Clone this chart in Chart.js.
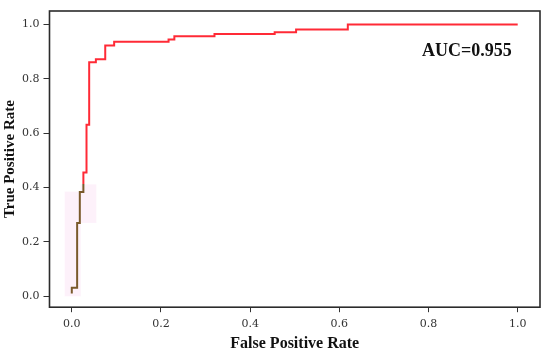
<!DOCTYPE html>
<html>
<head>
<meta charset="utf-8">
<script src="https://cdn.jsdelivr.net/npm/chart.js@4"></script>
<style>
body{margin:0;background:#fff;}
#wrap{width:550px;height:353px;position:relative;}
</style>
</head>
<body>
<div id="wrap"><canvas id="rocChart"></canvas></div>
<script>
// ROC curve corners
const fpr = [0.000, 0.000, 0.012, 0.018, 0.026, 0.033, 0.039, 0.054, 0.075, 0.095, 0.217, 0.230, 0.320, 0.455, 0.503, 0.619, 1.000];
const tpr = [0.010, 0.032, 0.270, 0.384, 0.456, 0.631, 0.861, 0.872, 0.923, 0.937, 0.945, 0.957, 0.965, 0.972, 0.982, 1.000, 1.000];
const xTicks = [0, 0.2, 0.4, 0.6, 0.8, 1.0];
const yTicks = [0, 0.2, 0.4, 0.6, 0.8, 1.0];
const aucLabel = "AUC=0.955";

const red = "#ff2a36";
const brown = "#7a5a2c";
const serif = "'Liberation Serif', 'Times New Roman', serif";

function lineColor(context){
    const chart = context.chart;
    const area = chart.chartArea;
    if(!area){
        return red;
    }
    const cut = chart.scales.y.getPixelForValue(0.412);
    const g = chart.ctx.createLinearGradient(0, area.bottom, 0, area.top);
    const stop = (area.bottom - cut) / (area.bottom - area.top);
    g.addColorStop(0, brown);
    g.addColorStop(stop, brown);
    g.addColorStop(stop, red);
    g.addColorStop(1, red);
    return g;
}

// faint pink highlight behind the bottom of the curve, box round the plot, AUC text
const extras = {
    id: "extras",
    beforeDatasetsDraw(chart){
        const {ctx, scales:{x, y}} = chart;
        ctx.save();
        ctx.fillStyle = "rgba(250,215,240,0.35)";
        ctx.fillRect(x.getPixelForValue(-0.016), y.getPixelForValue(0.385),
            x.getPixelForValue(0.02) - x.getPixelForValue(-0.016),
            y.getPixelForValue(0) - y.getPixelForValue(0.385));
        ctx.fillRect(x.getPixelForValue(0.02), y.getPixelForValue(0.412),
            x.getPixelForValue(0.055) - x.getPixelForValue(0.02),
            y.getPixelForValue(0.27) - y.getPixelForValue(0.412));
        ctx.restore();
    },
    afterDraw(chart){
        const {ctx, chartArea:a, scales:{x, y}} = chart;
        ctx.save();
        ctx.strokeStyle = "#2b2b2b";
        ctx.lineWidth = 1.6;
        ctx.strokeRect(a.left, a.top, a.right - a.left, a.bottom - a.top);
        ctx.fillStyle = "#111";
        ctx.font = "bold 18px " + serif;
        ctx.textAlign = "center";
        ctx.textBaseline = "middle";
        ctx.fillText(aucLabel, x.getPixelForValue(0.886), y.getPixelForValue(0.903));
        ctx.restore();
    }
};

new Chart(document.getElementById("rocChart"), {
    type: "line",
    data: {
        datasets: [{
            data: fpr.map((v, i) => ({x: v, y: tpr[i]})),
            borderColor: lineColor,
            borderWidth: 2,
            pointRadius: 0,
            stepped: "before",
            fill: false
        }]
    },
    options: {
        responsive: true,
        maintainAspectRatio: false,
        animation: false,
        layout: {padding: {top: 11, right: 10, left: 3, bottom: 0}},
        plugins: {legend: {display: false}, tooltip: {enabled: false}},
        scales: {
            x: {
                type: "linear",
                min: -0.05,
                max: 1.05,
                afterBuildTicks: axis => { axis.ticks = xTicks.map(v => ({value: v})); },
                grid: {drawOnChartArea: false, drawTicks: true, tickLength: 5, color: "#333"},
                border: {display: false},
                ticks: {
                    color: "#333",
                    padding: 5,
                    maxRotation: 0,
                    font: {family: "'DejaVu Serif', serif", size: 11},
                    callback: v => Number(v).toFixed(1)
                },
                title: {
                    display: true,
                    text: "False Positive Rate",
                    color: "#111",
                    padding: {top: 0, bottom: 0},
                    font: {family: serif, size: 16, weight: "bold", lineHeight: 1.1}
                }
            },
            y: {
                type: "linear",
                min: -0.04,
                max: 1.05,
                afterBuildTicks: axis => { axis.ticks = yTicks.map(v => ({value: v})); },
                grid: {drawOnChartArea: false, drawTicks: true, tickLength: 6, color: "#333"},
                border: {display: false},
                ticks: {
                    color: "#333",
                    padding: 4,
                    font: {family: "'DejaVu Serif', serif", size: 11},
                    callback: v => Number(v).toFixed(1)
                },
                title: {
                    display: true,
                    text: "True Positive Rate",
                    color: "#111",
                    padding: {top: 0, bottom: 0},
                    font: {family: serif, size: 15, weight: "bold", lineHeight: 1}
                }
            }
        }
    },
    plugins: [extras]
});
</script>
</body>
</html>
